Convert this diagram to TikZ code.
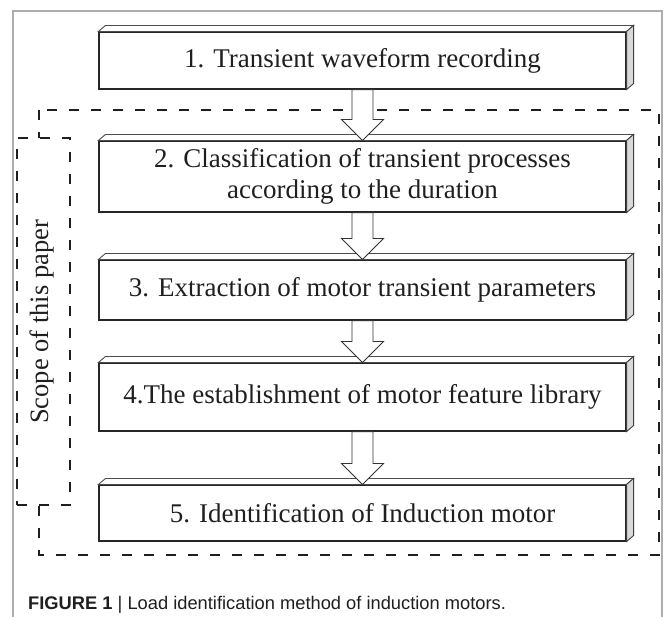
\documentclass[tikz,border=0pt]{standalone}
\usepackage{fontspec}
\setmainfont{Liberation Serif}
\newfontfamily\capfont{Liberation Sans}
\usetikzlibrary{calc}
\newcommand\blockarrowbetween[2]{%
  \filldraw[blockarrow] let \p1=(#1.south), \p2=(#2.north) in
    (\x1-10.5pt,\y1) -- (\x1+10.5pt,\y1) -- (\x1+10.5pt,\y2+21pt) -- (\x1+21pt,\y2+21pt)
    -- (\x1,\y2) -- (\x1-21pt,\y2+21pt) -- (\x1-10.5pt,\y2+21pt) -- cycle;}
\begin{document}
\begin{tikzpicture}[x=1pt,y=-1pt,
  stepbox/.style={draw=black!85, line width=1.1pt, fill=white, minimum width=527pt,
    inner sep=0pt, align=center, font=\fontsize{27}{31}\selectfont, text=black!88},
  topface/.style={draw=black!70, line width=0.9pt, fill=white},
  sideface/.style={draw=black!75, line width=0.9pt, fill=black!15},
  scopeline/.style={draw=black!88, line width=1.8pt, dash pattern=on 10pt off 12pt},
  blockarrow/.style={draw=black!80, line width=0.9pt, fill=white},
  frameline/.style={draw=black!32, line width=2pt}]
\useasboundingbox (0,0) rectangle (663,616);
\fill[white] (0,0) rectangle (663,616);
% outer frame (open at bottom)
\draw[frameline] (13,640) -- (13,11) -- (662,11) -- (662,640);
% main dashed frame
\draw[scopeline] (39,110) rectangle (659,555);
% scope box
\node[scopeline, fill=white, minimum width=53pt, minimum height=367pt, inner sep=0pt] (scope) at (43.5,321.5) {};
\node[rotate=90, font=\fontsize{26.5}{30}\selectfont, text=black!88, inner sep=0pt] (scopetext) at (41.5,322) {Scope of this paper};
% boxes
\node[stepbox, minimum height=57pt] (b1) at (362.5,60.5) {1. Transient waveform recording};
\node[stepbox, minimum height=71pt] (b2) at (362.5,176.5) {2. Classification of transient processes\\according to the duration};
\node[stepbox, minimum height=60pt] (b3) at (362.5,290) {3. Extraction of motor transient parameters};
\node[stepbox, minimum height=68pt] (b4) at (362.5,397) {4.The establishment of motor feature library};
\node[stepbox, minimum height=56pt] (b5) at (362.5,513) {5. Identification of Induction motor};
\foreach \n in {b1,b2,b3,b4,b5}{
  \filldraw[topface] (\n.north west) -- ([shift={(7,-6)}]\n.north west) -- ([shift={(7,-6)}]\n.north east) -- (\n.north east) -- cycle;
  \filldraw[sideface] (\n.north east) -- ([shift={(7,-6)}]\n.north east) -- ([shift={(7,-6)}]\n.south east) -- (\n.south east) -- cycle;
}
% arrows
\blockarrowbetween{b1}{b2}
\blockarrowbetween{b2}{b3}
\blockarrowbetween{b3}{b4}
\blockarrowbetween{b4}{b5}
% caption
\node[anchor=base west, inner sep=0pt, font=\capfont\fontsize{18.3}{22}\selectfont, text=black!88] (caption) at (28,609)
  {\textbf{FIGURE 1} | Load identification method of induction motors.};
\end{tikzpicture}
\end{document}
